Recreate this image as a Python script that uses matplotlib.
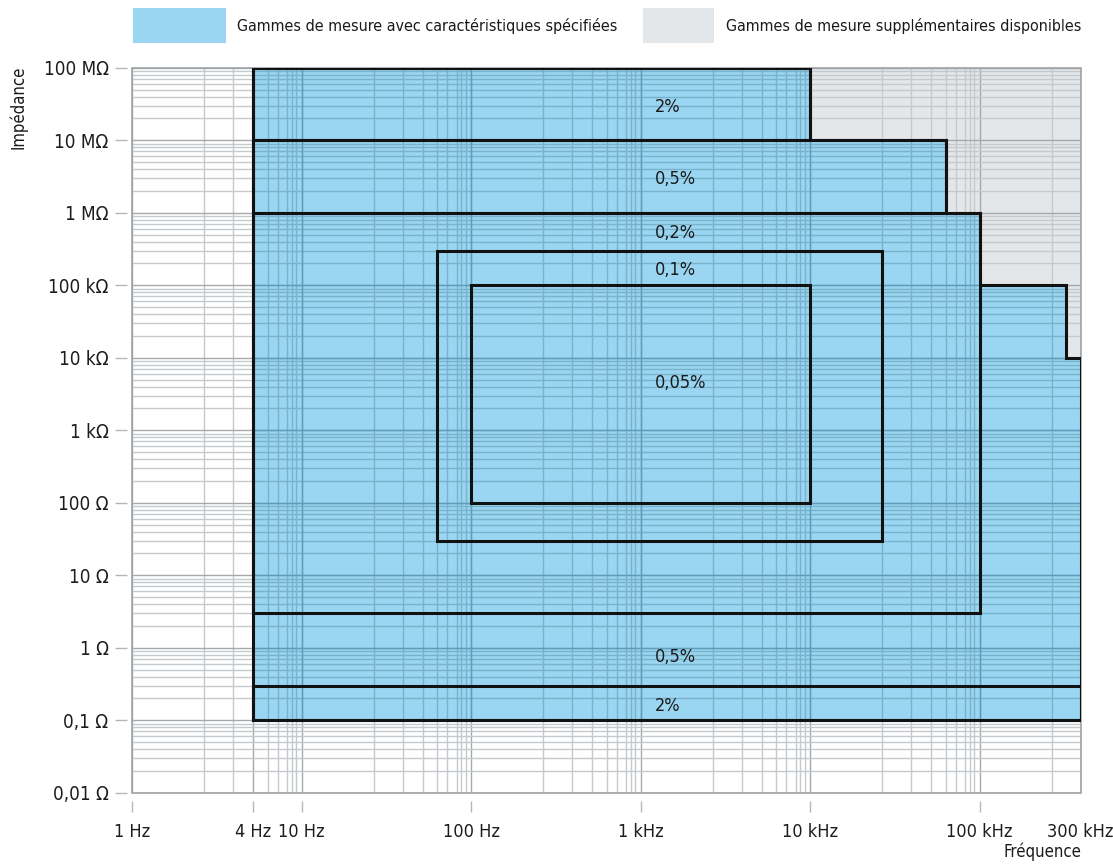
import numpy as np
import matplotlib.pyplot as plt
from matplotlib import font_manager as fm
from matplotlib.patches import Polygon, Rectangle

# police etroite si disponible
avail = {(f.name, f.stretch) for f in fm.fontManager.ttflist}
names = {n for n, _ in avail}
if 'Liberation Sans Narrow' in names:
    plt.rcParams['font.family'] = ['Liberation Sans Narrow', 'DejaVu Sans']
    FS = 13
elif ('DejaVu Sans', 'condensed') in avail or ('DejaVu Sans', 'semi-condensed') in avail:
    plt.rcParams['font.family'] = ['DejaVu Sans']
    plt.rcParams['font.stretch'] = 'condensed'
    FS = 12
else:
    plt.rcParams['font.family'] = ['Liberation Sans', 'DejaVu Sans']
    FS = 11.5

# --- donnees ---
freq_ticks = [1, 4, 10, 100, 1e3, 1e4, 1e5, 3e5]
freq_labels = ['1 Hz', '4 Hz', '10 Hz', '100 Hz', '1 kHz', '10 kHz', '100 kHz', '300 kHz']
imp_ticks = [1e-2, 1e-1, 1, 10, 100, 1e3, 1e4, 1e5, 1e6, 1e7, 1e8]
imp_labels = ['0,01 Ω', '0,1 Ω', '1 Ω', '10 Ω', '100 Ω', '1 kΩ', '10 kΩ',
              '100 kΩ', '1 MΩ', '10 MΩ', '100 MΩ']

# contour des gammes specifiees (Hz, ohm)
spec_f = [4, 4, 10e3, 10e3, 50e3, 50e3, 100e3, 100e3, 250e3, 250e3, 300e3, 300e3]
spec_z = [0.1, 100e6, 100e6, 10e6, 10e6, 1e6, 1e6, 100e3, 100e3, 10e3, 10e3, 0.1]

# gammes supplementaires
extra_f = [10e3, 300e3]
extra_z = [10e3, 100e6]

# zones de precision
box_f_lo = [4, 4, 4, 50, 100, 4]
box_f_hi = [10e3, 50e3, 100e3, 20e3, 10e3, 300e3]
box_z_lo = [10e6, 1e6, 3, 30, 100, 0.1]
box_z_hi = [100e6, 10e6, 1e6, 300e3, 100e3, 0.3]

acc_labels = ['2%', '0,5%', '0,2%', '0,1%', '0,05%', '0,5%', '2%']
acc_z = [2.9e7, 2.9e6, 5.2e5, 1.6e5, 4.5e3, 0.75, 0.157]

# echelle log du graphique d'origine (decade dessinee a la main)
mant = np.array([1, 2, 3, 4, 5, 6, 7, 8, 9, 10.0])
frac = np.array([0, .425, .596, .714, .799, .858, .915, .941, .968, 1.0])


def fwd(x):
    x = np.clip(np.asarray(x, float), 1e-12, None)
    l = np.log10(x)
    d = np.floor(l)
    return d + np.interp(10 ** (l - d), mant, frac)


def inv(y):
    y = np.asarray(y, float)
    d = np.floor(y)
    return 10 ** d * np.interp(y - d, frac, mant)


W, H = 1113, 866
fig = plt.figure(figsize=(W / 100, H / 100), dpi=100)
ax = fig.add_axes([132.3 / W, 73.3 / H, 948.4 / W, 725 / H])
ax.set_xscale('function', functions=(fwd, inv))
ax.set_yscale('log')
ax.set_xlim(1, 3e5)
ax.set_ylim(1e-2, 1e8)

for s in ax.spines.values():
    s.set_visible(False)
ax.spines['left'].set_position(('outward', 3.6))
ax.spines['bottom'].set_position(('outward', 6))

xg = [k * 10 ** d for d in range(0, 6) for k in range(1, 10) if k * 10 ** d <= 3e5]
yg = [k * 10.0 ** d for d in range(-2, 8) for k in range(1, 10)]

ax.set_xticks(freq_ticks, freq_labels)
ax.set_xticks(xg, minor=True)
ax.set_yticks(imp_ticks, imp_labels)
ax.set_yticks(yg, minor=True)
ax.tick_params(which='minor', length=0)
ax.tick_params(axis='y', which='major', length=8.5, width=1, color='#b4b7ba',
               pad=5, labelsize=FS + 1.5, labelcolor='#1c1c1c')
ax.tick_params(axis='x', which='major', length=8, width=1, color='#b4b7ba',
               pad=8, labelsize=FS + 1, labelcolor='#1c1c1c')
ax.grid(which='major', color='#a6a9ac', lw=1)
ax.grid(which='minor', color='#c6c9cc', lw=1)
ax.set_axisbelow(True)

# fond gris
ax.add_patch(Rectangle((extra_f[0], extra_z[0]), extra_f[1] - extra_f[0],
                       extra_z[1] - extra_z[0], facecolor='#e4e7e9',
                       edgecolor='none', zorder=0.2))
ax.add_patch(Rectangle((0, 0), 1, 1, transform=ax.transAxes, fill=False,
                       edgecolor='#9fa3a6', lw=1.2, zorder=0.6, clip_on=False))

# zone bleue
pts = np.column_stack([spec_f, spec_z])
blue = Polygon(pts, closed=True, facecolor='#9ad6f1', edgecolor='none', zorder=1)
ax.add_patch(blue)

xmaj = [v for v in xg if v in (1, 10, 100, 1e3, 1e4, 1e5)]
ymaj = imp_ticks
for xs, ys, col in [(xg, yg, '#79b2cd'), (xmaj, ymaj, '#5f9cb9')]:
    vl = ax.vlines(xs, 1e-2, 1e8, colors=col, lw=1, zorder=1.5)
    vl.set_clip_path(blue)
    hl = ax.hlines(ys, 1, 3e5, colors=col, lw=1, zorder=1.5)
    hl.set_clip_path(blue)

ax.add_patch(Polygon(pts, closed=True, fill=False, edgecolor='#111111',
                     lw=2.2, zorder=2, joinstyle='miter'))
for f0, f1, z0, z1 in zip(box_f_lo, box_f_hi, box_z_lo, box_z_hi):
    ax.add_patch(Rectangle((f0, z0), f1 - f0, z1 - z0, fill=False,
                           edgecolor='#111111', lw=2.2, zorder=2))

for txt, z in zip(acc_labels, acc_z):
    ax.text(1200, z, txt, ha='left', va='center', fontsize=FS + 1,
            color='#1a1a1a', zorder=3)

ax.xaxis.get_major_ticks()[-1].tick1line.set_visible(False)

# legende
fig.add_artist(Rectangle((133 / W, 1 - 43 / H), 93 / W, 35 / H,
                         transform=fig.transFigure, facecolor='#9ad6f1', edgecolor='none'))
fig.text(237 / W, 1 - 26 / H, 'Gammes de mesure avec caractéristiques spécifiées',
         ha='left', va='center', fontsize=FS - 0.5, color='#1a1a1a')
fig.add_artist(Rectangle((643 / W, 1 - 43 / H), 71 / W, 35 / H,
                         transform=fig.transFigure, facecolor='#e4e7e9', edgecolor='none'))
fig.text(726 / W, 1 - 26 / H, 'Gammes de mesure supplémentaires disponibles',
         ha='left', va='center', fontsize=FS - 0.5, color='#1a1a1a')

fig.text(18 / W, 1 - 107 / H, 'Impédance', rotation=90, ha='center', va='center',
         fontsize=FS, color='#1a1a1a')
fig.text(1081 / W, 1 - 852 / H, 'Fréquence', ha='right', va='center',
         fontsize=FS, color='#1a1a1a')

fig.savefig('out.png', dpi=100)
